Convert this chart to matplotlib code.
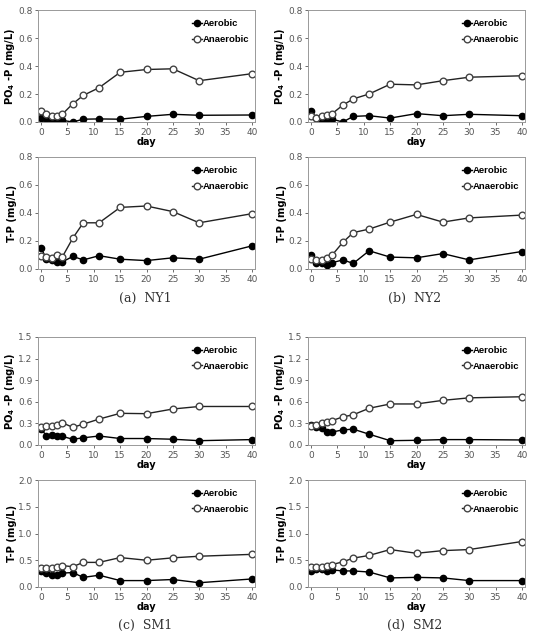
import matplotlib
matplotlib.use('Agg')
import matplotlib.pyplot as plt
import numpy as np

plt.rcParams['font.family'] = ['DejaVu Sans']
plt.rcParams['mathtext.default'] = 'regular'

day = [0, 1, 2, 3, 4, 6, 8, 11, 15, 20, 25, 30, 40]

# NY1
ny1_po4_aer = [0.03, 0.02, 0.015, 0.015, 0.012, 0.0, 0.02, 0.022, 0.02, 0.04, 0.055, 0.048, 0.05]
ny1_po4_ana = [0.08, 0.06, 0.045, 0.045, 0.055, 0.13, 0.19, 0.245, 0.355, 0.375, 0.38, 0.295, 0.345]
ny1_tp_aer = [0.15, 0.07, 0.065, 0.05, 0.05, 0.09, 0.065, 0.095, 0.07, 0.06, 0.08, 0.07, 0.165]
ny1_tp_ana = [0.095, 0.085, 0.08, 0.1, 0.085, 0.22, 0.33, 0.33, 0.44, 0.45, 0.41, 0.33, 0.395]
# NY2
ny2_po4_aer = [0.075, 0.03, 0.015, 0.02, 0.02, 0.0, 0.04, 0.045, 0.028, 0.06, 0.045, 0.055, 0.045]
ny2_po4_ana = [0.04, 0.03, 0.045, 0.05, 0.06, 0.12, 0.165, 0.2, 0.27, 0.265, 0.295, 0.32, 0.33]
ny2_tp_aer = [0.1, 0.045, 0.045, 0.03, 0.045, 0.065, 0.04, 0.13, 0.085, 0.08, 0.11, 0.065, 0.125]
ny2_tp_ana = [0.07, 0.065, 0.065, 0.08, 0.1, 0.19, 0.26, 0.285, 0.335, 0.39, 0.335, 0.365, 0.385]
# SM1
sm1_po4_aer = [0.22, 0.13, 0.14, 0.12, 0.12, 0.08, 0.1, 0.125, 0.09, 0.09, 0.08, 0.06, 0.075]
sm1_po4_ana = [0.25, 0.26, 0.27, 0.28, 0.31, 0.245, 0.29, 0.36, 0.44, 0.435, 0.5, 0.535, 0.535]
sm1_tp_aer = [0.3, 0.26, 0.23, 0.23, 0.26, 0.27, 0.18, 0.22, 0.12, 0.12, 0.14, 0.08, 0.15]
sm1_tp_ana = [0.36, 0.35, 0.36, 0.38, 0.4, 0.38, 0.46, 0.46, 0.55, 0.5, 0.545, 0.575, 0.61]
# SM2
sm2_po4_aer = [0.28, 0.25, 0.24, 0.18, 0.18, 0.21, 0.22, 0.15, 0.06, 0.065, 0.075, 0.075, 0.07]
sm2_po4_ana = [0.26, 0.28, 0.3, 0.32, 0.34, 0.39, 0.42, 0.51, 0.57, 0.57, 0.62, 0.655, 0.67]
sm2_tp_aer = [0.3, 0.33, 0.33, 0.3, 0.32, 0.3, 0.3, 0.28, 0.17, 0.18, 0.17, 0.12, 0.12]
sm2_tp_ana = [0.37, 0.37, 0.38, 0.4, 0.42, 0.47, 0.54, 0.59, 0.7, 0.63, 0.68, 0.7, 0.85]

captions = ['(a)  NY1', '(b)  NY2', '(c)  SM1', '(d)  SM2']

fig = plt.figure(figsize=(5.35, 6.31), dpi=100)

W, H = 535, 631
cols = [38, 308]
col_w = 217
rows = [(10, 122), (157, 269), (337, 445), (480, 587)]


def make_ax(col, row):
    x0 = cols[col]
    top, bot = rows[row]
    return fig.add_axes([x0 / W, (H - bot) / H, col_w / W, (bot - top) / H])


def draw(ax, aer, ana, ylab, ymax, ystep, show_day):
    ax.plot(day, aer, '-o', color='black', mfc='black', mec='black', ms=4.5, lw=1.0, label='Aerobic')
    ax.plot(day, ana, '-o', color='#222222', mfc='white', mec='#444444', ms=4.8, lw=1.0, label='Anaerobic')
    ax.set_xlim(-0.6, 40.6)
    ax.set_ylim(0, ymax)
    ax.set_xticks(np.arange(0, 41, 5))
    ax.set_yticks(np.arange(0, ymax + 1e-9, ystep))
    ax.yaxis.set_major_formatter(matplotlib.ticker.FormatStrFormatter('%.1f'))
    ax.tick_params(labelsize=6.5, colors='#555555', length=2, width=0.6, pad=2)
    for s in ax.spines.values():
        s.set_color('#999999')
        s.set_linewidth(0.7)
    ax.set_ylabel(ylab, fontsize=7.2, fontweight='bold', labelpad=1)
    if show_day:
        ax.set_xlabel('day', fontsize=7, fontweight='bold', labelpad=0)
    ax.legend(loc='upper left', bbox_to_anchor=(0.69, 0.95), frameon=False,
              handlelength=1.1, handletextpad=0.1, labelspacing=0.7,
              prop={'size': 6.8, 'weight': 'bold', 'family': 'Liberation Sans'},
              borderaxespad=0)


po4_lab = 'PO$_4$ -P (mg/L)'
tp_lab = 'T-P (mg/L)'

draw(make_ax(0, 0), ny1_po4_aer, ny1_po4_ana, po4_lab, 0.8, 0.2, True)
draw(make_ax(0, 1), ny1_tp_aer, ny1_tp_ana, tp_lab, 0.8, 0.2, False)
draw(make_ax(1, 0), ny2_po4_aer, ny2_po4_ana, po4_lab, 0.8, 0.2, True)
draw(make_ax(1, 1), ny2_tp_aer, ny2_tp_ana, tp_lab, 0.8, 0.2, False)
draw(make_ax(0, 2), sm1_po4_aer, sm1_po4_ana, po4_lab, 1.5, 0.3, True)
draw(make_ax(0, 3), sm1_tp_aer, sm1_tp_ana, tp_lab, 2.0, 0.5, True)
draw(make_ax(1, 2), sm2_po4_aer, sm2_po4_ana, po4_lab, 1.5, 0.3, True)
draw(make_ax(1, 3), sm2_tp_aer, sm2_tp_ana, tp_lab, 2.0, 0.5, True)

cap_pos = [(145, 298), (415, 298), (145, 625), (415, 625)]
for (cx, cy), c in zip(cap_pos, captions):
    fig.text(cx / W, (H - cy) / H, c, ha='center', va='center', fontsize=9,
             family=['DejaVu Serif'], color='#333333')

fig.savefig('out.png', dpi=100)
